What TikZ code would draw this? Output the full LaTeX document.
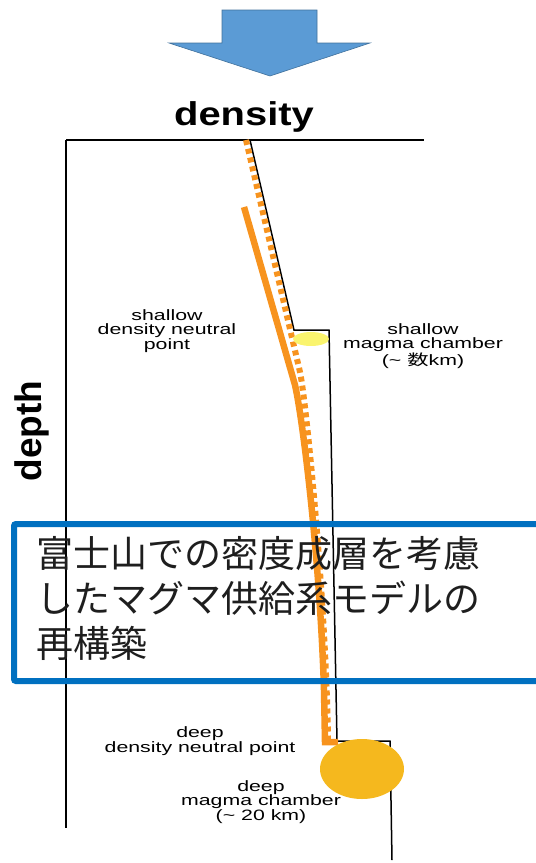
\documentclass[tikz,border=0pt]{standalone}
\usepackage{fontspec}
\setmainfont{Liberation Sans}
\newfontfamily\cjk{Noto Sans CJK JP}
\definecolor{arrowblue}{RGB}{91,155,213}
\definecolor{arrowedge}{RGB}{65,113,156}
\definecolor{boxblue}{RGB}{0,112,192}
\definecolor{orng}{RGB}{247,147,30}
\definecolor{lightyel}{RGB}{250,244,110}
\definecolor{gold}{RGB}{245,184,30}
\definecolor{jpgray}{RGB}{30,30,30}
\tikzset{
  axisline/.style={line width=2pt, black},
  profile/.style={line width=1.5pt, black, line join=miter},
  solidorange/.style={line width=6.5pt, orng, line join=miter},
  dottedorange/.style={line width=6pt, orng, dash pattern=on 5pt off 4pt},
  biglabel/.style={font=\fontsize{33}{35}\selectfont\bfseries, inner sep=0pt},
  smalllabel/.style={font=\fontsize{15}{14.5}\selectfont, align=center, inner sep=0pt, xscale=1.42},
  jptext/.style={font=\cjk\fontsize{37}{40}\selectfont, text=jpgray, inner sep=0pt, anchor=base west}
}
\begin{document}
\begin{tikzpicture}[x=1pt,y=-1pt]
\useasboundingbox (0,0) rectangle (536,863);
% big arrow
\draw[fill=arrowblue, draw=arrowedge, line width=0.6pt] (222,10) -- (317,10) -- (317,43) -- (370,43) -- (270,76) -- (169,43) -- (222,43) -- cycle;
% labels
\node[biglabel, xscale=1.21] (density) at (244,117) {density};
\node[biglabel, font=\fontsize{37}{39}\selectfont\bfseries, rotate=90] (depth) at (32,431) {depth};
% axes
\coordinate (o) at (66,140);
\coordinate (xend) at (424,140);
\coordinate (yend) at (66,828);
\draw[axisline] (o) -- (xend);
\draw[axisline] (o) -- (yend);
% black density profile
\draw[profile] (250,140) -- (294,330) -- (329,330) -- (337,741) -- (390,741) -- (392,860);
% orange solid magma density
\draw[solidorange] (244,207) -- (295,385) .. controls (303,420) and (320,560) .. (324,690) -- (325,742) -- (338,742);
% orange dotted
\draw[dottedorange] (246,140) -- (300,372) .. controls (306,400) and (326,600) .. (328,740);
% chambers
\fill[lightyel] (311,339) ellipse [x radius=18, y radius=7];
\fill[gold] (362,769) ellipse [x radius=42, y radius=30];
% small labels
\node[smalllabel] (sdnp) at (167,331) {shallow\\density neutral\\point};
\node[smalllabel] (smc) at (423,346) {shallow\\magma chamber\\(\textasciitilde{} {\cjk 数}km)};
\node[smalllabel] (ddnp) at (200,741) {deep\\density neutral point};
\node[smalllabel] (dmc) at (261,802) {deep\\magma chamber\\(\textasciitilde{} 20 km)};
% blue box
\draw[line width=6pt, boxblue, rounded corners=2pt] (14,524) rectangle (548,681);
\node[jptext] (jp1) at (36,567) {富士山での密度成層を考慮};
\node[jptext] (jp2) at (36,612) {したマグマ供給系モデルの};
\node[jptext] (jp3) at (36,657) {再構築};
\end{tikzpicture}
\end{document}
